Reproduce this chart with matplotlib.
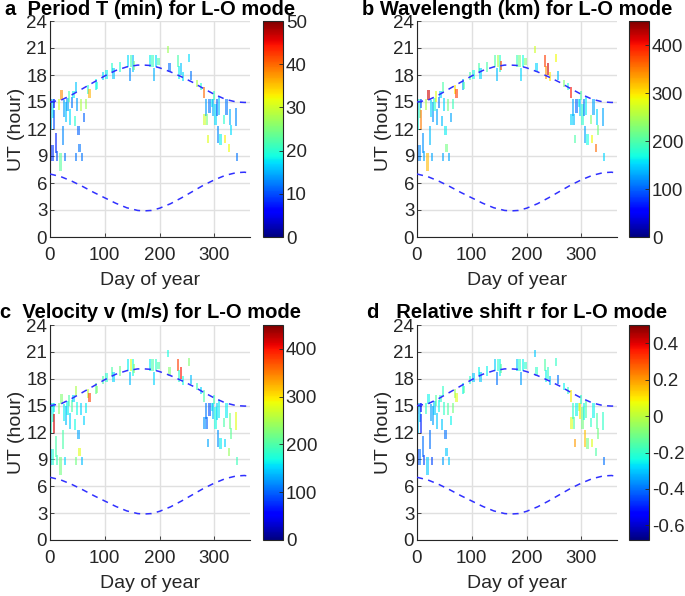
import numpy as np
import matplotlib.pyplot as plt
from matplotlib import colors

plt.rcParams.update({
    "font.family": ["Liberation Sans", "DejaVu Sans"],
    "text.color": "#262626",
    "axes.labelcolor": "#262626",
    "xtick.color": "#262626",
    "ytick.color": "#262626",
})

# events: day of year, start / end UT (hour)
day = [1, 2, 2, 5, 6, 8, 8, 11, 13, 16, 19, 21, 23, 25, 27, 29, 32, 35, 37, 40,
       43, 45, 47, 48, 50, 52, 54, 57, 58, 62, 66, 70, 72, 84, 86, 97, 103, 113, 116, 128,
       143, 146, 148, 151, 153, 183, 187, 190, 193, 198, 216, 218, 234, 236, 239, 242, 254, 257, 269, 276,
       281, 282, 284, 287, 289, 291, 295, 297, 300, 302, 305, 307, 309, 311, 317, 319, 322, 327, 328, 331,
       340, 342]
ut_start = [14.1, 11.9, 8.4, 13.2, 8.4, 12.0, 14.3, 9.3, 8.4, 14.1, 7.3, 15.2, 10.2, 13.3, 8.4, 12.8, 14.0, 15.0, 12.4, 14.3,
            15.4, 12.3, 8.4, 16.1, 14.0, 11.3, 9.4, 14.0, 8.4, 12.8, 14.2, 15.9, 15.4, 16.3, 16.4, 17.4, 17.6, 18.3, 17.6, 18.3,
            18.9, 17.3, 18.9, 18.3, 18.6, 18.9, 18.9, 17.3, 18.9, 19.1, 20.4, 18.3, 18.9, 17.6, 18.0, 17.3, 19.4, 17.4, 16.7, 16.3,
            15.4, 12.4, 13.5, 12.4, 10.4, 13.8, 14.4, 13.5, 15.2, 12.4, 13.4, 10.4, 13.6, 10.2, 12.6, 10.4, 13.6, 9.4, 12.4, 11.3,
            12.3, 8.4]
ut_end = [15.3, 14.1, 10.2, 15.3, 10.2, 14.1, 15.3, 11.6, 9.5, 15.3, 9.3, 16.3, 12.3, 15.2, 9.3, 15.0, 15.5, 16.2, 14.2, 15.6,
          16.2, 13.5, 9.3, 17.2, 15.4, 12.3, 10.3, 15.3, 9.3, 13.8, 15.3, 16.9, 16.4, 17.5, 17.2, 18.3, 18.6, 19.3, 18.8, 19.4,
          20.2, 18.8, 20.2, 20.2, 19.6, 20.2, 20.2, 18.8, 20.2, 19.9, 21.2, 19.3, 20.2, 19.0, 19.3, 18.3, 20.3, 18.4, 17.5, 17.1,
          16.7, 13.7, 15.3, 13.7, 11.3, 15.3, 15.3, 15.3, 16.2, 14.8, 15.3, 12.3, 15.6, 11.4, 13.6, 11.3, 15.3, 10.3, 14.2, 12.5,
          14.3, 9.3]

period = [12, 16, 8, 18, 9, 10, 6, 8, 10, 30, 23, 38, 13, 14, 12, 16, 14, 22, 17, 12,
          18, 20, 12, 16, 14, 11, 12, 28, 12, 11, 27, 20, 36, 18, 19, 17, 18, 20, 16, 20,
          17, 13, 22, 16, 24, 18, 21, 15, 17, 22, 27, 12, 22, 18, 16, 17, 17, 12, 28, 20,
          40, 30, 14, 25, 31, 12, 18, 15, 21, 17, 11, 13, 16, 18, 20, 33, 12, 32, 15, 17,
          13, 12]
wavelength = [150, 170, 110, 200, 120, 350, 100, 120, 130, 250, 320, 420, 140, 150, 130, 120, 180, 280, 130, 110,
              150, 140, 130, 200, 150, 160, 220, 220, 130, 130, 190, 300, 380, 130, 200, 200, 170, 200, 150, 200,
              200, 140, 250, 180, 380, 190, 220, 150, 170, 230, 270, 150, 380, 340, 420, 300, 290, 140, 230, 180,
              400, 150, 130, 140, 200, 100, 160, 150, 200, 180, 110, 130, 160, 170, 230, 290, 130, 360, 150, 220,
              130, 150]
velocity = [150, 180, 150, 170, 180, 420, 160, 200, 190, 230, 220, 230, 200, 160, 150, 140, 160, 200, 150, 200,
            150, 170, 220, 250, 170, 130, 280, 150, 140, 150, 160, 260, 380, 210, 230, 200, 180, 200, 150, 220,
            160, 140, 280, 170, 230, 160, 200, 150, 180, 200, 170, 230, 380, 180, 400, 170, 230, 140, 190, 150,
            200, 120, 110, 100, 130, 90, 160, 140, 190, 170, 150, 120, 160, 160, 200, 150, 160, 240, 220, 210,
            280, 190]
shift = [-0.35, -0.3, -0.45, -0.3, -0.4, -0.5, -0.55, -0.4, -0.45, -0.2, -0.3, -0.25, -0.4, -0.35, -0.45, -0.35, -0.3, -0.15, -0.3, -0.25,
         -0.2, -0.3, -0.35, -0.2, -0.2, -0.4, -0.3, -0.15, -0.3, -0.25, -0.1, -0.05, 0.05, -0.25, -0.15, -0.2, -0.3, -0.25, -0.3, -0.25,
         -0.3, -0.4, -0.2, -0.25, -0.15, -0.3, -0.2, -0.35, -0.25, -0.2, -0.3, -0.2, -0.15, -0.25, -0.2, -0.3, -0.2, -0.4, -0.25, -0.2,
         0.1, 0.05, -0.2, -0.15, 0.2, -0.25, -0.05, 0.1, -0.2, -0.1, -0.25, 0.15, -0.15, -0.1, -0.2, 0.05, -0.25, -0.15, -0.15, -0.1,
         -0.2, -0.4]

# sunset / sunrise UT
curve_day = [0, 20, 40, 60, 80, 100, 120, 140, 160, 172, 185, 200, 220, 240, 260, 280, 300, 320, 340, 355, 365]
sunset_ut = [15.0, 15.2, 15.8, 16.5, 17.2, 17.9, 18.5, 18.9, 19.1, 19.1, 19.05, 18.8, 18.35, 17.8, 17.2, 16.5, 15.85, 15.3, 15.0, 14.95, 14.95]
sunrise_ut = [7.0, 6.7, 6.2, 5.6, 4.95, 4.35, 3.75, 3.25, 2.95, 2.9, 2.95, 3.2, 3.7, 4.35, 5.05, 5.75, 6.35, 6.85, 7.15, 7.2, 7.1]

titles = ["a  Period T (min) for L-O mode", "b Wavelength (km) for L-O mode",
          "c  Velocity v (m/s) for L-O mode", "d   Relative shift r for L-O mode"]
values = [period, wavelength, velocity, shift]
clims = [(0, 50), (0, 450), (0, 450), (-0.68, 0.5)]
cticks = [[0, 10, 20, 30, 40, 50], [0, 100, 200, 300, 400], [0, 100, 200, 300, 400],
          [-0.6, -0.4, -0.2, 0, 0.2, 0.4]]
cticklabels = [None, None, None, ["-0.6", "-0.4", "-0.2", "0", "0.2", "0.4"]]

W, H = 685, 596
fig = plt.figure(figsize=(W / 100, H / 100), dpi=100)
# pixel boxes: (left, top, right, bottom) of axes and colorbars
ax_px = [(50, 21, 250, 237), (417, 21, 617, 237), (50, 325, 250, 540), (417, 325, 617, 540)]
cb_px = [(263, 283), (629, 649), (263, 283), (629, 649)]
title_pad = [4, 4, 5, 5]

cmap = plt.get_cmap("jet")
duration = np.subtract(ut_end, ut_start)

for i in range(4):
    l, t, r, b = ax_px[i]
    ax = fig.add_axes([l / W, 1 - b / H, (r - l) / W, (b - t) / H])
    norm = colors.Normalize(*clims[i])
    ax.bar(day, duration, bottom=ut_start, width=4.0, color=cmap(norm(np.array(values[i]))),
           alpha=0.6, linewidth=0, zorder=2)
    ax.plot(curve_day, sunset_ut, "--", color="#3030ff", lw=1.1, dashes=(4, 3.5), zorder=3)
    ax.plot(curve_day, sunrise_ut, "--", color="#3030ff", lw=1.1, dashes=(4, 3.5), zorder=3)
    ax.set_xlim(0, 365)
    ax.set_ylim(0, 24)
    ax.set_xticks([0, 100, 200, 300])
    ax.set_yticks(range(0, 25, 3))
    ax.grid(True, color="#e0e0e0", lw=1.0, zorder=0)
    ax.set_axisbelow(True)
    for s in ["top", "right"]:
        ax.spines[s].set_visible(False)
    for s in ["left", "bottom"]:
        ax.spines[s].set_color("#262626")
        ax.spines[s].set_linewidth(0.8)
    ax.tick_params(direction="in", length=3, width=0.6, labelsize=13.5)
    ax.tick_params(axis="x", pad=7)
    ax.tick_params(axis="y", pad=2)
    ax.set_xlabel("Day of year", fontsize=14, labelpad=6)
    ax.set_ylabel("UT (hour)", fontsize=14, labelpad=1)
    ax.set_title(titles[i], fontsize=14.5, fontweight="bold", color="black", pad=title_pad[i])

    c0, c1 = cb_px[i]
    cax = fig.add_axes([c0 / W, 1 - b / H, (c1 - c0) / W, (b - t) / H])
    sm = plt.cm.ScalarMappable(norm=norm, cmap=cmap)
    cb = fig.colorbar(sm, cax=cax, ticks=cticks[i])
    if cticklabels[i]:
        cb.ax.set_yticklabels(cticklabels[i])
    cb.outline.set_edgecolor("#262626")
    cb.outline.set_linewidth(0.8)
    cb.ax.tick_params(direction="in", length=3, width=0.6, labelsize=13.5, pad=2)

fig.savefig("out.png", dpi=100)
